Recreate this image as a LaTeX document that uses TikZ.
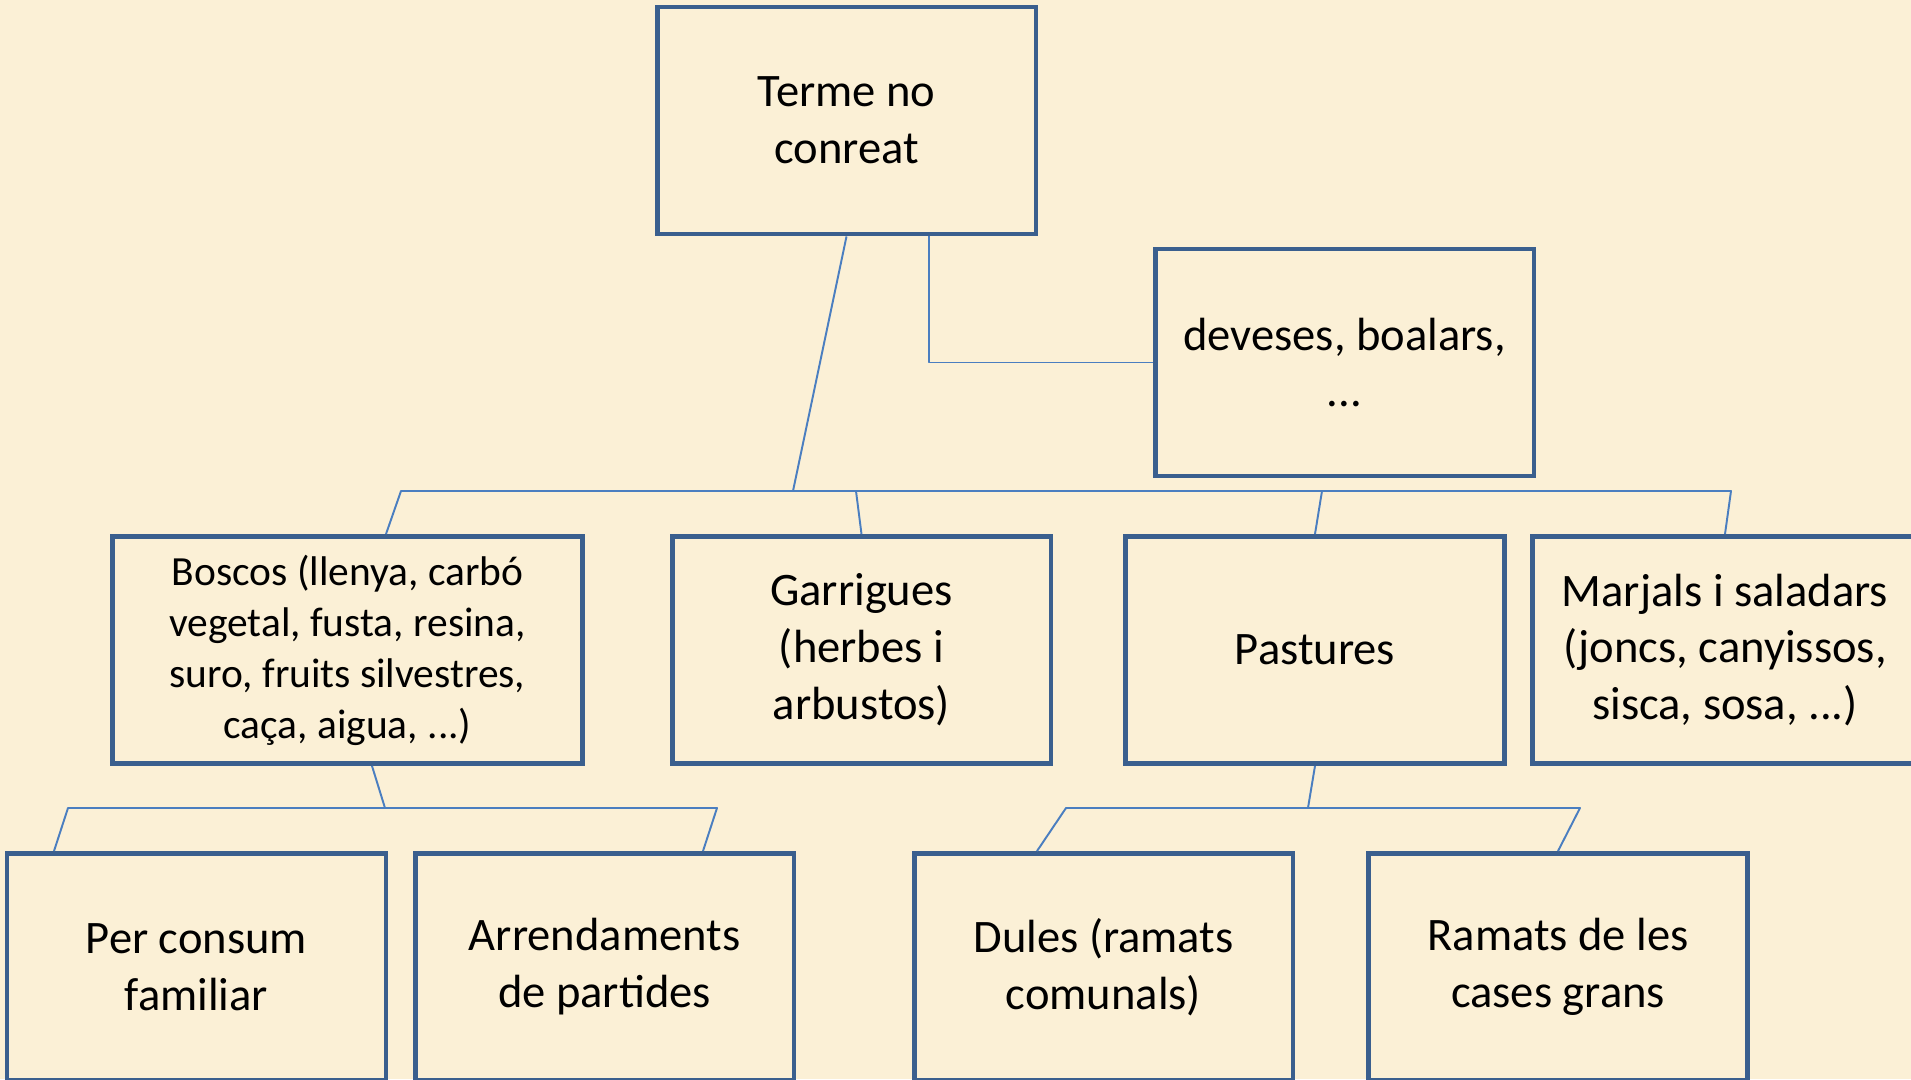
\documentclass[tikz,border=0pt]{standalone}
\usepackage{fontspec}
\setmainfont{Carlito}
\usetikzlibrary{calc}
\definecolor{parchment}{HTML}{FBF0D6}
\definecolor{boxblue}{HTML}{3A5F8E}
\definecolor{linkblue}{HTML}{4A7EC0}
\tikzstyle{box}=[draw=boxblue,line width=2.8pt,minimum width=7.58cm,minimum height=4.54cm,inner sep=0pt,align=center,font=\fontsize{26.5}{32.4}\selectfont]
\tikzstyle{link}=[draw=linkblue,line width=1.1pt,line join=round]

\begin{document}
\begin{tikzpicture}[x=0.02cm, y=-0.02cm]
    \fill[parchment] (0,0) rectangle (1911,1079);
    \useasboundingbox (0,0) rectangle (1911,1079);
    \clip (0,0) rectangle (1911,1079);

    \foreach \pos/\name/\val in {{(846.5,120.5)/root/Terme no\\conreat},
    {(861.5,650)/garrigues/Garrigues\\(herbes i\\arbustos)},
    {(1315,650)/pastures/Pastures},
    {(196.5,967)/consum/Per consum\\familiar},
    {(604.5,967)/arrend/Arrendaments\\de partides},
    {(1103.5,967)/dules/Dules (ramats\\comunals)},
    {(1558,967)/ramats/Ramats de les\\cases grans}}
        \node[box] (\name) at \pos {\val};

    \node[box] (deveses) at (1344.5,362.5) {deveses, boalars,\\...};
    \node[box,minimum width=9.42cm,font=\fontsize{23.6}{29}\selectfont] (boscos) at (347.5,650)
        {Boscos (llenya, carbó\\vegetal, fusta, resina,\\suro, fruits silvestres,\\caça, aigua, ...)};
    \node[box,minimum width=7.72cm] (marjals) at (1725,650)
        {Marjals i saladars\\(joncs, canyissos,\\sisca, sosa, ...)};

    \coordinate (bus1l) at (401,491);
    \coordinate (bus1r) at (1731,491);
    \coordinate (bus2l) at (68,808);
    \coordinate (bus2r) at (717,808);
    \coordinate (bus3l) at (1066,808);
    \coordinate (bus3r) at (1580,808);

    \path[link] ($(root.south)+(82.5,0)$) |- (deveses.west);
    \path[link] (root.south) -- (793,491);
    \path[link] ($(boscos.north)+(38.5,0)$) -- (bus1l) -- (bus1r) -- (marjals.north);
    \path[link] (garrigues.north) -- (856,491);
    \path[link] (pastures.north) -- (1322,491);

    \path[link] ($(boscos.south)+(24.5,0)$) -- (385,808);
    \path[link] ($(consum.north)+(-142.5,0)$) -- (bus2l) -- (bus2r) -- ($(arrend.north)+(98.5,0)$);

    \path[link] (pastures.south) -- (1308,808);
    \path[link] ($(dules.north)+(-66.5,0)$) -- (bus3l) -- (bus3r) -- (ramats.north);
\end{tikzpicture}
\end{document}
